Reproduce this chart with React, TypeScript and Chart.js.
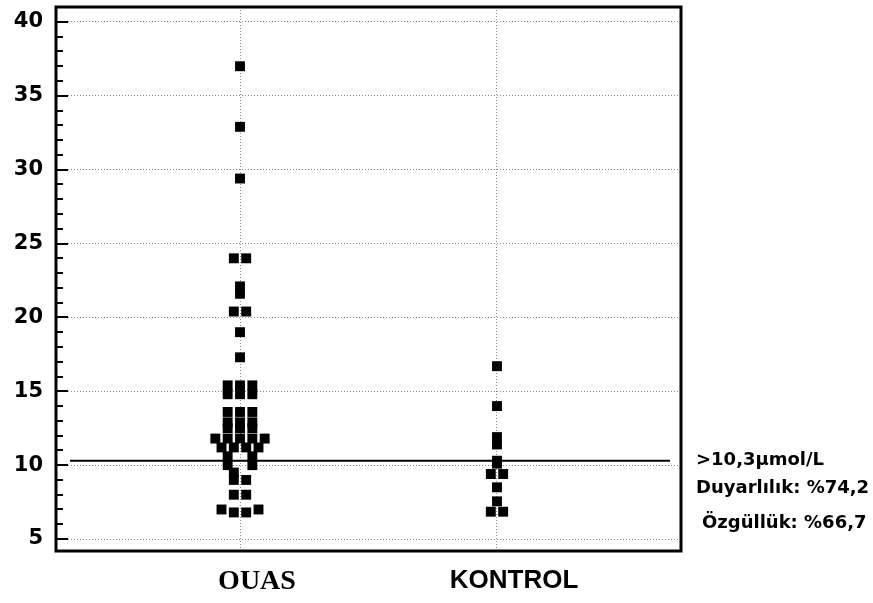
import React, { useEffect, useRef } from 'react';
import { Chart, registerables } from 'chart.js';

Chart.register(...registerables);

// ---- data ----
const categories = ['OUAS', 'KONTROL'];

// OUAS group: value and horizontal slot (beeswarm column index, 0 = centre)
const ouasValues = [
  37.0, 32.9, 29.4, 24.0, 24.0, 22.1, 21.6, 20.4, 20.4, 19.0, 17.3,
  15.4, 15.4, 15.4,
  14.8, 14.8, 14.8,
  13.6, 13.6, 13.6,
  12.9, 12.9, 12.9,
  12.5, 12.5, 12.5,
  11.8, 11.8, 11.8, 11.8, 11.8,
  11.2, 11.2, 11.2, 11.2,
  10.6, 10.6,
  10.0, 10.0,
  9.5,
  9.0, 9.0,
  8.0, 8.0,
  7.0, 7.0,
  6.8, 6.8,
];
const ouasSlots = [
  0, 0, 0, -1, 1, 0, 0, -1, 1, 0, 0,
  -2, 0, 2,
  -2, 0, 2,
  -2, 0, 2,
  -2, 0, 2,
  -2, 0, 2,
  -4, -2, 0, 2, 4,
  -3, -1, 1, 3,
  -2, 2,
  -2, 2,
  -1,
  -1, 1,
  -1, 1,
  -3, 3,
  -1, 1,
];

const kontrolValues = [16.7, 14.0, 11.9, 11.4, 10.3, 10.1, 9.4, 9.4, 8.5, 7.55, 6.85, 6.85];
const kontrolSlots = [0, 0, 0, 0, 0, 0, -1, 1, 0, 0, -1, 1];

const yTickValues = [5, 10, 15, 20, 25, 30, 35, 40];
const thresholdValue = 10.3;
const noteLines = ['>10,3µmol/L', 'Duyarlılık: %74,2', 'Özgüllük: %66,7'];

// ---- styling constants ----
const SLOT = 0.024;
const Y_MIN = 4.19;
const Y_MAX = 41.01;
const X_MIN = 0.284;
const X_MAX = 2.716;

const toPoints = (center: number, values: number[], slots: number[]) =>
  values.map((v, i) => ({ x: center + slots[i] * SLOT, y: v }));

const framePlugin = {
  id: 'frame',
  beforeDatasetsDraw(chart: any) {
    const { ctx, chartArea, scales } = chart;
    const y = scales.y.getPixelForValue(thresholdValue);
    ctx.save();
    ctx.strokeStyle = '#000';
    ctx.lineWidth = 2;
    ctx.beginPath();
    ctx.moveTo(chartArea.left + 14, y);
    ctx.lineTo(chartArea.right - 11, y);
    ctx.stroke();
    ctx.restore();
  },
  afterDraw(chart: any) {
    const { ctx, chartArea, scales } = chart;
    const ys = scales.y;
    ctx.save();
    ctx.strokeStyle = '#000';
    // minor / major ticks inward
    ctx.lineWidth = 2;
    for (let v = 5; v <= 40; v++) {
      const py = Math.round(ys.getPixelForValue(v));
      const len = v % 5 === 0 ? 12 : 7;
      ctx.beginPath();
      ctx.moveTo(chartArea.left, py);
      ctx.lineTo(chartArea.left + len, py);
      ctx.stroke();
    }
    // frame
    ctx.lineWidth = 3;
    ctx.strokeRect(chartArea.left, chartArea.top, chartArea.right - chartArea.left, chartArea.bottom - chartArea.top);
    // notes
    ctx.fillStyle = '#000';
    ctx.font = 'bold 18px "DejaVu Sans"';
    ctx.textBaseline = 'middle';
    ctx.textAlign = 'left';
    const pos = [
      [696, 460],
      [696, 488],
      [702, 523],
    ];
    noteLines.forEach((t, i) => ctx.fillText(t, pos[i][0], pos[i][1]));
    ctx.restore();
  },
};

export default function App() {
  const ref = useRef<HTMLCanvasElement | null>(null);
  useEffect(() => {
    if (!ref.current) return;
    const chart = new Chart(ref.current, {
      type: 'scatter',
      data: {
        datasets: [
          {
            label: categories[0],
            data: toPoints(1, ouasValues, ouasSlots),
            backgroundColor: '#000',
            borderColor: '#000',
            borderWidth: 0,
            pointStyle: 'rect',
            pointRadius: 7,
            pointHoverRadius: 7,
          },
          {
            label: categories[1],
            data: toPoints(2, kontrolValues, kontrolSlots),
            backgroundColor: '#000',
            borderColor: '#000',
            borderWidth: 0,
            pointStyle: 'rect',
            pointRadius: 7,
            pointHoverRadius: 7,
          },
        ],
      },
      options: {
        animation: false,
        responsive: false,
        events: [],
        layout: { padding: { left: 0, top: 6, right: 192, bottom: 0 } },
        plugins: { legend: { display: false }, tooltip: { enabled: false } },
        scales: {
          x: {
            type: 'linear',
            min: X_MIN,
            max: X_MAX,
            afterBuildTicks: (s: any) => {
              s.ticks = categories.map((_, i) => ({ value: i + 1 }));
            },
            afterFit: (s: any) => {
              s.height = 52;
              s.paddingLeft = 0;
              s.paddingRight = 0;
            },
            grid: { color: '#8a8a8a', lineWidth: 1, drawTicks: false },
            border: { display: false, dash: [1, 2] },
            ticks: {
              color: '#000',
              padding: 14,
              labelOffset: 17,
              maxRotation: 0,
              autoSkip: false,
              callback: (v: any) => categories[Math.round(Number(v)) - 1] ?? '',
              font: (ctx: any) =>
                ctx.index === 0
                  ? { family: '"Liberation Serif", "Times New Roman", serif', size: 28, weight: 'bold' }
                  : { family: '"Liberation Sans", Arial, sans-serif', size: 26, weight: 'bold' },
            },
          },
          y: {
            type: 'linear',
            min: Y_MIN,
            max: Y_MAX,
            afterBuildTicks: (s: any) => {
              s.ticks = yTickValues.map((v) => ({ value: v }));
            },
            afterFit: (s: any) => {
              s.width = 56;
              s.paddingTop = 0;
              s.paddingBottom = 0;
            },
            grid: { color: '#8a8a8a', lineWidth: 1, drawTicks: false },
            border: { display: false, dash: [1, 2] },
            ticks: {
              color: '#000',
              padding: 13,
              autoSkip: false,
              callback: (v: any) => String(v),
              font: { family: '"DejaVu Sans", sans-serif', size: 21, weight: 'bold' },
            },
          },
        },
      },
      plugins: [framePlugin],
    });
    return () => chart.destroy();
  }, []);

  return (
    <div style={{ position: 'absolute', left: 0, top: 0, width: 873, height: 603, background: '#fff' }}>
      <canvas ref={ref} width={873} height={603} style={{ display: 'block' }} />
    </div>
  );
}
